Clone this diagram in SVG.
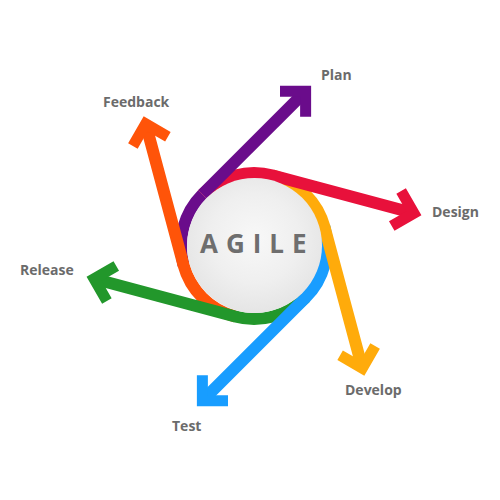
<svg xmlns="http://www.w3.org/2000/svg" width="500" height="500" viewBox="0 0 500 500">
  <style>
    .arr { fill: none; stroke-width: 12; stroke-linecap: butt; stroke-linejoin: miter; }
    .head { fill: none; stroke-width: 11; stroke-linecap: butt; stroke-linejoin: miter; stroke-miterlimit: 10; }
    .lbl { font-family: "Open Sans", "Liberation Sans", sans-serif; font-weight: bold; font-size: 14px; fill: #6b6b6b; }
    .core { font-family: "Open Sans", "Liberation Sans", sans-serif; font-weight: bold; font-size: 26px; fill: #6e6e6e; letter-spacing: 8px; }
    .plan { stroke: #6a0c8b; }
    .design { stroke: #e8113b; }
    .develop { stroke: #ffab0b; }
    .test { stroke: #189dff; }
    .release { stroke: #22972b; }
    .feedback { stroke: #ff5409; }
  </style>
  <defs>
    <radialGradient id="disc" cx="50%" cy="45%" r="55%">
      <stop offset="0" stop-color="#f8f8f8"/>
      <stop offset="0.6" stop-color="#efefef"/>
      <stop offset="1" stop-color="#e5e5e5"/>
    </radialGradient>
    <path id="arcPart" d="M 183.487 264.894 A 73 73 0 0 1 202.381 194.381"/>
    <path id="fullArrow" d="M 183.487 264.894 A 73 73 0 0 1 202.381 194.381 L 305.62 91.14"/>
    <path id="shaftPart" d="M 202.381 194.381 L 305.62 91.14"/>
    <path id="headPart" d="M 280 91.14 L 305.62 91.14 L 305.62 116.76"/>
  </defs>

  <g id="connectors">
    <use href="#arcPart" class="arr plan"/>
    <g transform="rotate(300 254 246)">
      <use href="#fullArrow" class="arr feedback"/>
      <use href="#headPart" class="head feedback"/>
    </g>
    <g transform="rotate(240 254 246)">
      <use href="#fullArrow" class="arr release"/>
      <use href="#headPart" class="head release"/>
    </g>
    <g transform="rotate(180 254 246)">
      <use href="#fullArrow" class="arr test"/>
      <use href="#headPart" class="head test"/>
    </g>
    <g transform="rotate(120 254 246)">
      <use href="#fullArrow" class="arr develop"/>
      <use href="#headPart" class="head develop"/>
    </g>
    <g transform="rotate(60 254 246)">
      <use href="#fullArrow" class="arr design"/>
      <use href="#headPart" class="head design"/>
    </g>
    <use href="#shaftPart" class="arr plan"/>
    <use href="#headPart" class="head plan"/>
  </g>

  <g id="agile">
    <circle cx="254.5" cy="245.5" r="67.5" fill="url(#disc)"/>
    <text x="200" y="253" class="core">AGILE</text>
  </g>

  <g id="plan"><text x="321" y="80" class="lbl">Plan</text></g>
  <g id="design"><text x="432" y="217" class="lbl">Design</text></g>
  <g id="develop"><text x="345" y="395" class="lbl">Develop</text></g>
  <g id="test"><text x="172" y="431" class="lbl">Test</text></g>
  <g id="release"><text x="20" y="275" class="lbl">Release</text></g>
  <g id="feedback"><text x="103" y="107" class="lbl">Feedback</text></g>
</svg>
